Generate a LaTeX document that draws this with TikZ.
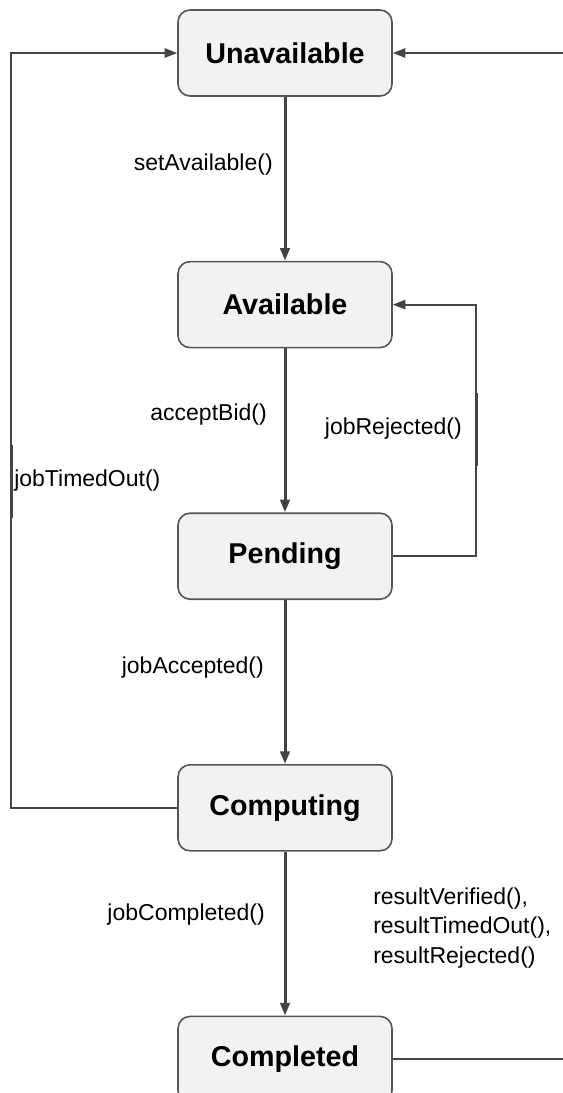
\documentclass[tikz,border=0pt]{standalone}
\usepackage{fontspec}
\setmainfont{Liberation Sans}
\usetikzlibrary{positioning,arrows.meta}
\definecolor{boxfill}{HTML}{F2F2F2}
\definecolor{boxline}{HTML}{555555}
\definecolor{wire}{HTML}{444444}

\begin{document}
\begin{tikzpicture}[x=0.75pt,y=-0.75pt,node distance=123pt,
    state/.style={draw=boxline,fill=boxfill,line width=1.2pt,rounded corners=9pt,
        minimum width=160.5pt,minimum height=64.5pt,font=\fontsize{21.5}{26}\selectfont\bfseries},
    lbl/.style={font=\fontsize{17.25}{22}\selectfont,inner sep=0pt},
    main/.style={draw=wire,line width=2.25pt,-{Triangle[length=9.5pt,width=7pt]}},
    back/.style={draw=wire,line width=1.5pt,-{Triangle[length=9.5pt,width=7pt]}},
    seg/.style={draw=wire,line width=2.25pt}]
    \useasboundingbox (0,0) rectangle (562,1093);

    \node[state] (u) at (285,53) {Unavailable};
    \node[state,below=of u] (a) {Available};
    \node[state,below=of a] (p) {Pending};
    \node[state,below=of p] (c) {Computing};
    \node[state,below=of c] (d) {Completed};

    \coordinate (lx) at (11,0);
    \coordinate (rx) at (568,0);
    \coordinate (jx) at (476,0);

    \node[lbl,anchor=east] (l1) at (273,165) {setAvailable()};
    \node[lbl,anchor=east] (l2) at (267,415) {acceptBid()};
    \node[lbl,anchor=east] (l3) at (462,429) {jobRejected()};
    \node[lbl,anchor=west] (l4) at (14,481) {jobTimedOut()};
    \node[lbl,anchor=east] (l5) at (264,668) {jobAccepted()};
    \node[lbl,anchor=east] (l6) at (265,915) {jobCompleted()};
    \node[lbl,anchor=west,align=left] (l7) at (373,928) {resultVerified(),\\resultTimedOut(),\\resultRejected()};

    \path[main]
    (u) edge (a)
    (a) edge (p)
    (p) edge (c)
    (c) edge (d);

    % loops back
    \draw[back] (p.east) -- (p.east -| jx) |- (a.east);
    \draw[back] (c.west) -- (c.west -| lx) |- (u.west);
    \draw[back] (d.east) -- (d.east -| rx) |- (u.east);

    \draw[seg] (jx |- l3.center) ++(0,-36.5) -- ++(0,73);
    \draw[seg] (lx |- l4.center) ++(0,-36.5) -- ++(0,73);
\end{tikzpicture}
\end{document}
